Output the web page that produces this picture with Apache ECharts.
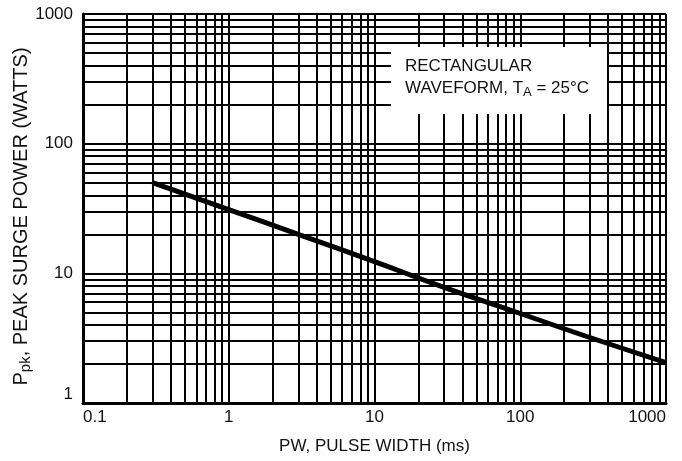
<!DOCTYPE html>
<html>
  <head>
    <meta charset="utf-8" />
    <title>Peak surge power vs pulse width</title>
    <script src="https://cdn.jsdelivr.net/npm/echarts@6/dist/echarts.min.js"></script>
    <style>
      body { margin: 0; background: #fff; }
    </style>
  </head>
  <body>
    <div id="main" style="width: 682px; height: 461px"></div>
    <script type="text/javascript">
      // curve (pulse width in ms, power in watts)
      var pulseWidth = [0.3, 1, 3, 10, 30, 100, 300, 1000];
      var peakPower = [50, 31, 20, 12.3, 7.8, 4.9, 3.2, 2.05];

      // decades for the grid (each one gets lines at 2..9 x decade)
      var xDecades = [0.1, 1, 10, 100];
      var yDecades = [1, 10, 100];
      var minorSteps = [2, 3, 4, 5, 6, 7, 8, 9];

      var FONT = '"Liberation Sans Narrow", "Liberation Sans", Arial, sans-serif';

      function minorLines(decades, key) {
        var out = [];
        decades.forEach(function (d) {
          minorSteps.forEach(function (m) {
            var o = {};
            o[key] = +(d * m).toPrecision(3);
            out.push(o);
          });
        });
        return out;
      }

      function plain(v) {
        return String(+v.toPrecision(3));
      }

      var chartDom = document.getElementById('main');
      var myChart = echarts.init(chartDom);
      var option;

      option = {
        backgroundColor: '#fff',
        animation: false,
        grid: {
          left: 83,
          right: 16,
          top: 14,
          bottom: 58,
          containLabel: false,
          outerBoundsMode: 'none'
        },
        xAxis: {
          type: 'log',
          logBase: 10,
          min: 0.1,
          max: 1000,
          name: 'PW, PULSE WIDTH (ms)',
          nameLocation: 'middle',
          nameGap: 35,
          nameMoveOverlap: false,
          nameTextStyle: { color: '#111', fontSize: 17, fontFamily: FONT },
          axisLine: { show: true, lineStyle: { color: '#000', width: 3 } },
          axisTick: { show: false },
          axisLabel: {
            color: '#111',
            fontSize: 17,
            fontFamily: FONT,
            margin: 6,
            alignMinLabel: 'left',
            alignMaxLabel: 'right',
            formatter: plain
          },
          splitLine: { show: true, lineStyle: { color: '#000', width: 2 } }
        },
        yAxis: {
          type: 'log',
          logBase: 10,
          min: 1,
          max: 1000,
          name: '{a|P}{s|pk}{a|, PEAK SURGE POWER (WATTS)}',
          nameLocation: 'middle',
          nameGap: 50,
          nameMoveOverlap: false,
          nameTextStyle: {
            padding: [0, 16, 0, 0],
            rich: {
              a: { color: '#111', fontSize: 20, fontFamily: FONT },
              s: { color: '#111', fontSize: 15, fontFamily: FONT, padding: [9, 0, 0, 0] }
            }
          },
          axisLine: { show: true, lineStyle: { color: '#000', width: 3 } },
          axisTick: { show: false },
          axisLabel: {
            color: '#111',
            fontSize: 17,
            fontFamily: FONT,
            margin: 10,
            verticalAlignMinLabel: 'bottom',
            formatter: plain
          },
          splitLine: { show: true, lineStyle: { color: '#000', width: 2 } }
        },
        graphic: [
          {
            type: 'rect',
            left: 391,
            top: 47,
            shape: { width: 216, height: 67 },
            style: { fill: '#fff' },
            z: 100
          },
          {
            type: 'text',
            left: 405,
            top: 58,
            z: 101,
            style: {
              text: 'RECTANGULAR',
              fill: '#111',
              font: '17px ' + FONT
            }
          },
          {
            type: 'text',
            left: 405,
            top: 80,
            z: 101,
            style: {
              text: '{a|WAVEFORM, T}{s|A}{a| = 25°C}',
              rich: {
                a: { fill: '#111', font: '17px ' + FONT },
                s: { fill: '#111', font: '13px ' + FONT, padding: [8, 0, 0, 0] }
              }
            }
          }
        ],
        series: [
          {
            type: 'line',
            data: [],
            silent: true,
            markLine: {
              silent: true,
              symbol: 'none',
              label: { show: false },
              lineStyle: { color: '#000', width: 2, type: 'solid' },
              data: minorLines(xDecades, 'xAxis').concat(minorLines(yDecades, 'yAxis'))
            }
          },
          {
            type: 'line',
            data: pulseWidth.map(function (x, i) {
              return [x, peakPower[i]];
            }),
            smooth: true,
            showSymbol: false,
            z: 5,
            lineStyle: { color: '#000', width: 5 }
          }
        ]
      };

      option && myChart.setOption(option);
    </script>
  </body>
</html>
